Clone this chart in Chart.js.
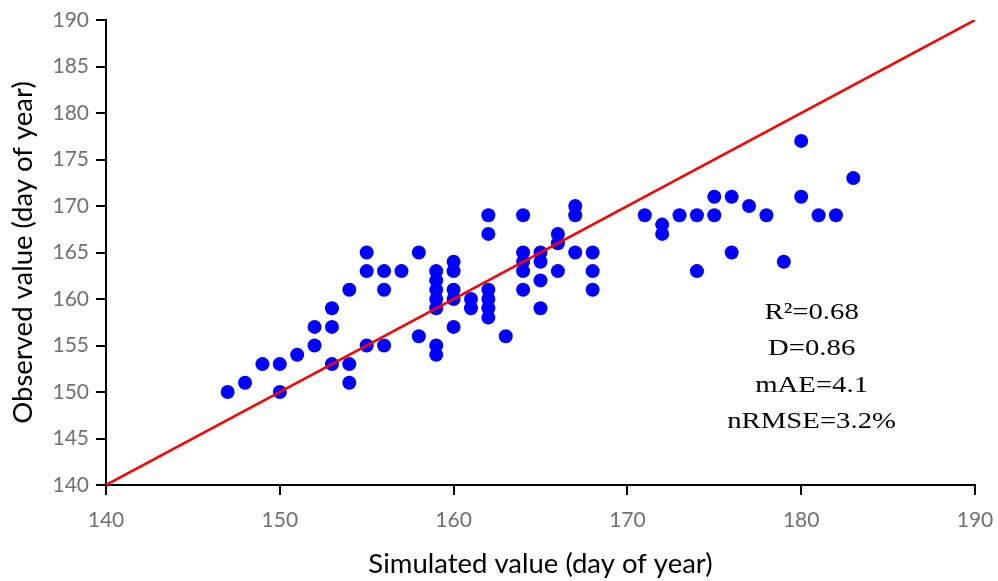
<!DOCTYPE html>
<html>
<head>
<meta charset="utf-8">
<script src="https://cdn.jsdelivr.net/npm/chart.js@4.4.1/dist/chart.umd.min.js"></script>
<style>
    html, body { margin: 0; padding: 0; background: #fff; }
    #wrap { width: 998px; height: 581px; }
</style>
</head>
<body>
<div id="wrap"><canvas id="chart"></canvas></div>
<script>
// --- Datos ---
const simulated = [
    147, 148, 149, 150, 150, 151, 152, 152, 153, 153, 153, 154, 154, 154,
    155, 155, 155, 156, 156, 156, 157, 158, 158,
    159, 159, 159, 159, 159, 159, 159,
    160, 160, 160, 160, 160, 161, 161,
    162, 162, 162, 162, 162, 162, 163,
    164, 164, 164, 164, 164, 165, 165, 165, 165,
    166, 166, 166, 167, 167, 167, 168, 168, 168,
    171, 172, 172, 173, 174, 174, 175, 175, 176, 176,
    177, 178, 179, 180, 180, 181, 182, 183
];
const observed = [
    150, 151, 153, 153, 150, 154, 155, 157, 157, 159, 153, 161, 153, 151,
    165, 163, 155, 163, 161, 155, 163, 165, 156,
    163, 162, 161, 160, 159, 155, 154,
    164, 163, 161, 160, 157, 160, 159,
    169, 167, 161, 160, 159, 158, 156,
    169, 165, 164, 163, 161, 165, 164, 162, 159,
    167, 166, 163, 170, 169, 165, 165, 163, 161,
    169, 168, 167, 169, 169, 163, 171, 169, 171, 165,
    170, 169, 164, 177, 171, 169, 169, 173
];
const oneToOne = [140, 190];
const statsLabels = ['R\u00B2=0.68', 'D=0.86', 'mAE=4.1', 'nRMSE=3.2%'];

const points = simulated.map((x, i) => ({ x: x, y: observed[i] }));
const linePoints = oneToOne.map(v => ({ x: v, y: v }));

// --- Texto de estadísticos ---
const statsPlugin = {
    id: 'stats',
    afterDatasetsDraw(chart) {
        const ctx = chart.ctx;
        const xs = chart.scales.x;
        const ys = chart.scales.y;
        const cx = xs.getPixelForValue(180.6);
        let cy = ys.getPixelForValue(157.9);
        ctx.save();
        ctx.fillStyle = '#000';
        ctx.font = "23px 'Liberation Serif'";
        ctx.textAlign = 'center';
        ctx.textBaseline = 'alphabetic';
        statsLabels.forEach(t => {
            ctx.save();
            ctx.translate(cx, cy);
            ctx.scale(1.25, 1);   // el texto original está estirado a lo ancho
            ctx.fillText(t, 0, 0);
            ctx.restore();
            cy += 36.6;
        });
        ctx.restore();
    }
};

const tickFont = { family: 'Lato', size: 21 };
const titleFont = { family: 'Lato', size: 27.5 };

new Chart(document.getElementById('chart'), {
    type: 'scatter',
    data: {
        datasets: [
            {
                type: 'line',
                data: linePoints,
                borderColor: '#ff0000',
                borderWidth: 2.5,
                pointRadius: 0,
                fill: false
            },
            {
                data: points,
                backgroundColor: '#0000ff',
                borderColor: '#0000ff',
                borderWidth: 0,
                pointRadius: 7,
                pointHoverRadius: 7
            }
        ]
    },
    options: {
        responsive: true,
        maintainAspectRatio: false,
        animation: false,
        layout: { padding: { top: 20, right: 23, left: 0, bottom: 0 } },
        plugins: {
            legend: { display: false },
            tooltip: { enabled: false }
        },
        scales: {
            x: {
                type: 'linear',
                min: 140,
                max: 190,
                ticks: { stepSize: 10, color: '#707070', font: tickFont, padding: 13 },
                grid: { drawOnChartArea: false, drawTicks: true, tickLength: 10, color: '#000', lineWidth: 2 },
                border: { display: true, color: '#000', width: 2 },
                title: { display: true, text: 'Simulated value (day of year)', color: '#000', font: titleFont, padding: { top: 0, bottom: 0 } },
                afterFit(scale) {
                    scale.height = 96;
                    scale.paddingLeft = 0;
                    scale.paddingRight = 0;
                }
            },
            y: {
                type: 'linear',
                min: 140,
                max: 190,
                ticks: { stepSize: 5, color: '#707070', font: tickFont, padding: 7 },
                grid: { drawOnChartArea: false, drawTicks: true, tickLength: 10, color: '#000', lineWidth: 2 },
                border: { display: true, color: '#000', width: 2 },
                title: { display: true, text: 'Observed value (day of year)', color: '#000', font: titleFont, padding: { top: 7, bottom: 0 } },
                afterFit(scale) { scale.width = 106; }
            }
        }
    },
    plugins: [statsPlugin]
});
</script>
</body>
</html>
